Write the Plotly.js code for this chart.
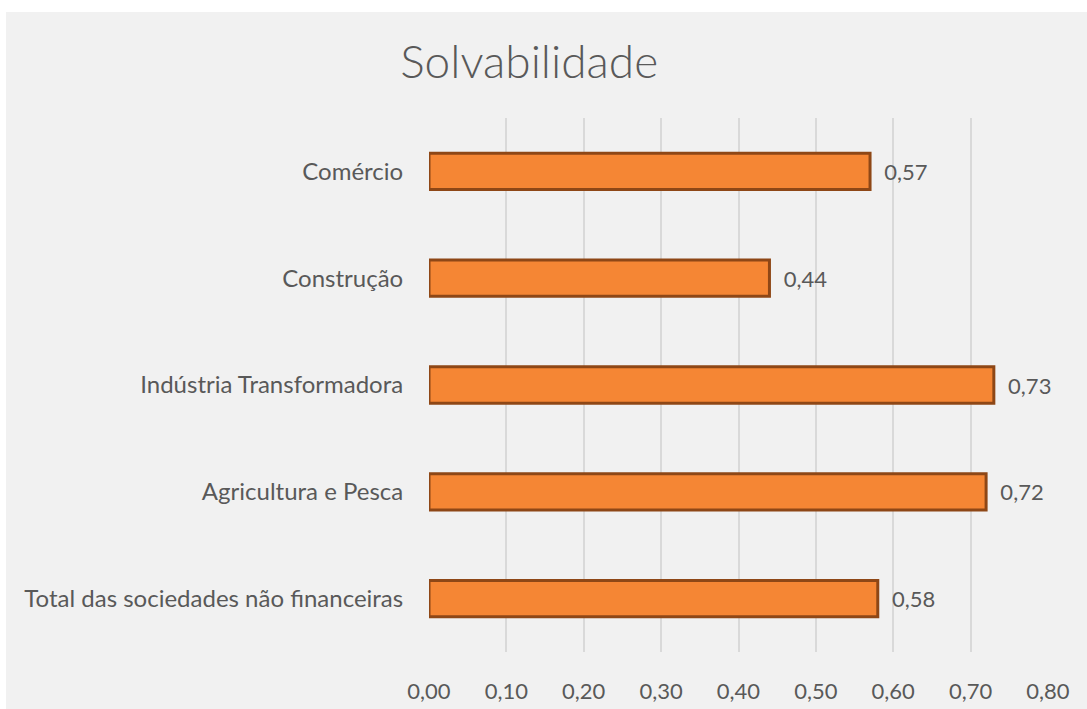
<!DOCTYPE html>
<html>
<head>
<meta charset="utf-8">
<script src="https://cdn.plot.ly/plotly-3.0.1.min.js"></script>
<style>
html,body{margin:0;padding:0;background:#ffffff;}
#chart{position:absolute;left:6px;top:12px;width:1081px;height:697px;}
</style>
</head>
<body>
<div id="chart"></div>
<script>
const categories = ["Total das sociedades não financeiras", "Agricultura e Pesca", "Indústria Transformadora", "Construção", "Comércio"];
const values = [0.58, 0.72, 0.73, 0.44, 0.57];
const xTicks = [0, 0.1, 0.2, 0.3, 0.4, 0.5, 0.6, 0.7, 0.8];
const chartTitle = "Solvabilidade";

const FONT = "Lato, 'Open Sans', sans-serif";
const TXT = "#595959";

const trace = {
  type: "bar",
  orientation: "h",
  y: categories,
  x: values,
  width: 0.34,
  marker: {color: "#f58634", line: {color: "#8e4716", width: 3}},
  texttemplate: "\u00a0\u00a0%{x:.2f}",
  textposition: "outside",
  cliponaxis: false,
  textfont: {family: FONT, size: 22, color: TXT},
  hoverinfo: "skip"
};

const layout = {
  width: 1081, height: 697,
  paper_bgcolor: "#f1f1f1",
  plot_bgcolor: "#f1f1f1",
  separators: ",.",
  margin: {l: 423, r: 39, t: 106, b: 57, pad: 0},
  title: {text: chartTitle, font: {family: FONT, size: 46, color: TXT, weight: 300}, x: 0.484, xanchor: "center", y: 0.928, yanchor: "middle"},
  showlegend: false,
  font: {family: FONT, color: TXT},
  xaxis: {
    range: [0, 0.8], tickvals: xTicks, tickformat: ".2f",
    showgrid: true, gridcolor: "#d9d9d9", gridwidth: 2,
    zeroline: false, showline: false,
    ticks: "outside", ticklen: 20, tickcolor: "rgba(0,0,0,0)",
    tickfont: {family: FONT, size: 22, color: TXT}
  },
  yaxis: {
    type: "category", showgrid: false, zeroline: false, showline: false,
    ticks: "outside", ticklen: 20, tickcolor: "rgba(0,0,0,0)",
    tickfont: {family: FONT, size: 24, color: TXT}
  }
};

Plotly.newPlot("chart", [trace], layout, {displayModeBar: false, staticPlot: true});
</script>
</body>
</html>
